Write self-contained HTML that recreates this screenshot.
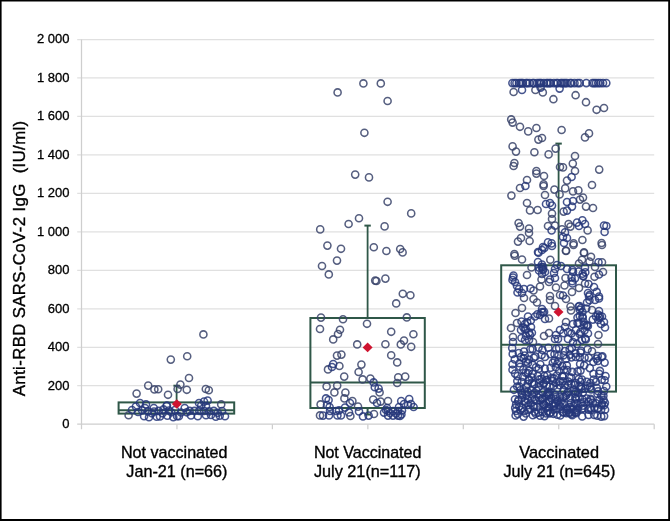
<!DOCTYPE html><html><head><meta charset="utf-8"><title>chart</title><style>html,body{margin:0;padding:0;background:#fff}svg{will-change:transform}</style></head><body><svg width="670" height="521" viewBox="0 0 670 521" style="display:block;font-family:'Liberation Sans',sans-serif">
<rect x="0" y="0" width="670" height="521" fill="#fff"/>
<line x1="77.2" y1="424.20" x2="654.2" y2="424.20" stroke="#cecece" stroke-width="1.25"/>
<text x="69.5" y="428.10" font-size="13" text-anchor="end" fill="#000" stroke="#000" stroke-width="0.3">0</text>
<line x1="77.2" y1="385.73" x2="654.2" y2="385.73" stroke="#e0e0e0" stroke-width="1.25"/>
<text x="69.5" y="389.63" font-size="13" text-anchor="end" fill="#000" stroke="#000" stroke-width="0.3">200</text>
<line x1="77.2" y1="347.26" x2="654.2" y2="347.26" stroke="#e0e0e0" stroke-width="1.25"/>
<text x="69.5" y="351.16" font-size="13" text-anchor="end" fill="#000" stroke="#000" stroke-width="0.3">400</text>
<line x1="77.2" y1="308.79" x2="654.2" y2="308.79" stroke="#e0e0e0" stroke-width="1.25"/>
<text x="69.5" y="312.69" font-size="13" text-anchor="end" fill="#000" stroke="#000" stroke-width="0.3">600</text>
<line x1="77.2" y1="270.32" x2="654.2" y2="270.32" stroke="#e0e0e0" stroke-width="1.25"/>
<text x="69.5" y="274.22" font-size="13" text-anchor="end" fill="#000" stroke="#000" stroke-width="0.3">800</text>
<line x1="77.2" y1="231.85" x2="654.2" y2="231.85" stroke="#e0e0e0" stroke-width="1.25"/>
<text x="69.5" y="235.75" font-size="13" text-anchor="end" fill="#000" stroke="#000" stroke-width="0.3">1 000</text>
<line x1="77.2" y1="193.38" x2="654.2" y2="193.38" stroke="#e0e0e0" stroke-width="1.25"/>
<text x="69.5" y="197.28" font-size="13" text-anchor="end" fill="#000" stroke="#000" stroke-width="0.3">1 200</text>
<line x1="77.2" y1="154.91" x2="654.2" y2="154.91" stroke="#e0e0e0" stroke-width="1.25"/>
<text x="69.5" y="158.81" font-size="13" text-anchor="end" fill="#000" stroke="#000" stroke-width="0.3">1 400</text>
<line x1="77.2" y1="116.44" x2="654.2" y2="116.44" stroke="#e0e0e0" stroke-width="1.25"/>
<text x="69.5" y="120.34" font-size="13" text-anchor="end" fill="#000" stroke="#000" stroke-width="0.3">1 600</text>
<line x1="77.2" y1="77.97" x2="654.2" y2="77.97" stroke="#e0e0e0" stroke-width="1.25"/>
<text x="69.5" y="81.87" font-size="13" text-anchor="end" fill="#000" stroke="#000" stroke-width="0.3">1 800</text>
<line x1="77.2" y1="39.50" x2="654.2" y2="39.50" stroke="#e0e0e0" stroke-width="1.25"/>
<text x="69.5" y="43.40" font-size="13" text-anchor="end" fill="#000" stroke="#000" stroke-width="0.3">2 000</text>
<line x1="81.5" y1="39.5" x2="81.5" y2="429.2" stroke="#cecece" stroke-width="1.25"/>
<line x1="176.95" y1="424.2" x2="176.95" y2="429.2" stroke="#cecece" stroke-width="1.25"/>
<line x1="272.40" y1="424.2" x2="272.40" y2="429.2" stroke="#cecece" stroke-width="1.25"/>
<line x1="367.85" y1="424.2" x2="367.85" y2="429.2" stroke="#cecece" stroke-width="1.25"/>
<line x1="463.30" y1="424.2" x2="463.30" y2="429.2" stroke="#cecece" stroke-width="1.25"/>
<line x1="558.75" y1="424.2" x2="558.75" y2="429.2" stroke="#cecece" stroke-width="1.25"/>
<line x1="654.20" y1="424.2" x2="654.20" y2="429.2" stroke="#cecece" stroke-width="1.25"/>
<g fill="none" stroke="#2f5748" stroke-width="2"><rect x="118.6" y="402.4" width="115.6" height="11.200000000000045"/><line x1="118.6" y1="410.3" x2="234.2" y2="410.3"/><line x1="176.6" y1="402.4" x2="176.6" y2="385.7" stroke-width="1.8"/><line x1="173.4" y1="385.7" x2="179.79999999999998" y2="385.7"/></g>
<g fill="none" stroke="#38436a" stroke-opacity="0.85" stroke-width="1.55"><circle cx="203.4" cy="334.4" r="3.55"/><circle cx="187.2" cy="356.2" r="3.55"/><circle cx="170.8" cy="359.6" r="3.55"/><circle cx="189.0" cy="378.0" r="3.55"/><circle cx="180.4" cy="384.6" r="3.55"/><circle cx="148.2" cy="385.6" r="3.55"/><circle cx="154.4" cy="389.4" r="3.55"/><circle cx="158.2" cy="389.2" r="3.55"/><circle cx="177.6" cy="389.0" r="3.55"/><circle cx="186.8" cy="389.8" r="3.55"/><circle cx="205.8" cy="389.0" r="3.55"/><circle cx="208.8" cy="390.2" r="3.55"/><circle cx="136.6" cy="393.6" r="3.55"/><circle cx="168.0" cy="394.8" r="3.55"/><circle cx="221.2" cy="404.4" r="3.55"/><circle cx="128.6" cy="415.2" r="3.55"/></g><g fill="none" stroke="#26377a" stroke-opacity="0.85" stroke-width="1.55"><circle cx="140.0" cy="403.0" r="3.55"/><circle cx="207.6" cy="400.6" r="3.55"/><circle cx="204.0" cy="401.6" r="3.55"/><circle cx="199.0" cy="403.0" r="3.55"/><circle cx="146.0" cy="404.4" r="3.55"/><circle cx="167.0" cy="405.6" r="3.55"/><circle cx="135.9" cy="406.5" r="3.55"/><circle cx="153.8" cy="408.0" r="3.55"/><circle cx="166.5" cy="406.0" r="3.55"/><circle cx="144.1" cy="416.2" r="3.55"/><circle cx="149.0" cy="417.2" r="3.55"/><circle cx="156.7" cy="416.7" r="3.55"/><circle cx="162.6" cy="413.3" r="3.55"/><circle cx="167.4" cy="415.7" r="3.55"/><circle cx="173.3" cy="417.2" r="3.55"/><circle cx="142.2" cy="410.4" r="3.55"/><circle cx="148.0" cy="411.4" r="3.55"/><circle cx="151.9" cy="413.3" r="3.55"/><circle cx="158.7" cy="410.9" r="3.55"/><circle cx="163.5" cy="409.4" r="3.55"/><circle cx="171.3" cy="412.3" r="3.55"/><circle cx="177.1" cy="416.2" r="3.55"/><circle cx="201.2" cy="405.5" r="3.55"/><circle cx="206.0" cy="406.0" r="3.55"/><circle cx="184.7" cy="408.0" r="3.55"/><circle cx="213.8" cy="410.9" r="3.55"/><circle cx="189.6" cy="410.9" r="3.55"/><circle cx="194.4" cy="410.9" r="3.55"/><circle cx="199.3" cy="410.9" r="3.55"/><circle cx="204.1" cy="410.9" r="3.55"/><circle cx="209.0" cy="411.4" r="3.55"/><circle cx="217.7" cy="412.8" r="3.55"/><circle cx="178.9" cy="416.2" r="3.55"/><circle cx="197.8" cy="416.2" r="3.55"/><circle cx="206.0" cy="415.2" r="3.55"/><circle cx="215.8" cy="416.7" r="3.55"/><circle cx="219.7" cy="415.7" r="3.55"/><circle cx="225.0" cy="416.2" r="3.55"/><circle cx="186.7" cy="412.3" r="3.55"/><circle cx="138.0" cy="412.0" r="3.55"/><circle cx="132.0" cy="410.0" r="3.55"/><circle cx="181.0" cy="412.5" r="3.55"/><circle cx="175.0" cy="410.0" r="3.55"/><circle cx="191.0" cy="415.5" r="3.55"/><circle cx="211.0" cy="415.0" r="3.55"/><circle cx="222.0" cy="411.0" r="3.55"/><circle cx="160.0" cy="416.5" r="3.55"/><circle cx="154.0" cy="411.5" r="3.55"/><circle cx="169.0" cy="410.5" r="3.55"/><circle cx="145.0" cy="408.0" r="3.55"/></g>
<path d="M171.8 404L176.8 399.2L181.8 404L176.8 408.8Z" fill="#cf1430"/>
<g fill="none" stroke="#2f5748" stroke-width="2"><rect x="310.4" y="318" width="114.40000000000003" height="90"/><line x1="310.4" y1="382.6" x2="424.8" y2="382.6"/><line x1="367.6" y1="318" x2="367.6" y2="225.6" stroke-width="1.8"/><line x1="364.40000000000003" y1="225.6" x2="370.8" y2="225.6"/><line x1="367.6" y1="408" x2="367.6" y2="414.5"/><line x1="364.40000000000003" y1="414.5" x2="370.8" y2="414.5"/></g>
<g fill="none" stroke="#38436a" stroke-opacity="0.85" stroke-width="1.55"><circle cx="363.4" cy="83.4" r="3.55"/><circle cx="380.8" cy="83.4" r="3.55"/><circle cx="337.6" cy="92.4" r="3.55"/><circle cx="387.6" cy="101.0" r="3.55"/><circle cx="364.4" cy="132.8" r="3.55"/><circle cx="355.2" cy="174.6" r="3.55"/><circle cx="369.0" cy="177.4" r="3.55"/><circle cx="387.6" cy="201.8" r="3.55"/><circle cx="411.2" cy="213.4" r="3.55"/><circle cx="359.0" cy="218.2" r="3.55"/><circle cx="348.6" cy="224.0" r="3.55"/><circle cx="384.6" cy="226.4" r="3.55"/><circle cx="320.2" cy="229.4" r="3.55"/><circle cx="327.4" cy="245.6" r="3.55"/><circle cx="341.0" cy="248.8" r="3.55"/><circle cx="373.8" cy="247.2" r="3.55"/><circle cx="386.4" cy="251.0" r="3.55"/><circle cx="400.2" cy="249.0" r="3.55"/><circle cx="402.6" cy="252.4" r="3.55"/><circle cx="337.0" cy="260.6" r="3.55"/><circle cx="322.0" cy="266.0" r="3.55"/><circle cx="328.8" cy="274.4" r="3.55"/><circle cx="375.2" cy="280.6" r="3.55"/><circle cx="376.4" cy="281.0" r="3.55"/><circle cx="385.4" cy="278.6" r="3.55"/><circle cx="402.8" cy="293.8" r="3.55"/><circle cx="410.4" cy="295.2" r="3.55"/><circle cx="396.2" cy="303.4" r="3.55"/><circle cx="321.0" cy="317.6" r="3.55"/><circle cx="343.0" cy="319.2" r="3.55"/><circle cx="406.8" cy="317.4" r="3.55"/><circle cx="367.0" cy="323.8" r="3.55"/><circle cx="320.0" cy="329.0" r="3.55"/><circle cx="340.0" cy="329.8" r="3.55"/><circle cx="338.0" cy="334.0" r="3.55"/><circle cx="391.2" cy="331.8" r="3.55"/><circle cx="413.4" cy="334.2" r="3.55"/><circle cx="333.2" cy="339.4" r="3.55"/><circle cx="404.0" cy="340.6" r="3.55"/><circle cx="357.2" cy="344.4" r="3.55"/><circle cx="385.4" cy="344.2" r="3.55"/><circle cx="400.8" cy="344.4" r="3.55"/><circle cx="411.2" cy="346.8" r="3.55"/><circle cx="337.0" cy="355.6" r="3.55"/><circle cx="341.4" cy="354.6" r="3.55"/><circle cx="391.2" cy="355.2" r="3.55"/><circle cx="397.2" cy="362.4" r="3.55"/><circle cx="339.4" cy="366.0" r="3.55"/><circle cx="361.4" cy="364.6" r="3.55"/><circle cx="328.0" cy="369.4" r="3.55"/><circle cx="358.6" cy="372.0" r="3.55"/><circle cx="344.2" cy="376.6" r="3.55"/><circle cx="362.6" cy="379.4" r="3.55"/><circle cx="370.4" cy="378.6" r="3.55"/><circle cx="398.2" cy="377.2" r="3.55"/><circle cx="405.2" cy="376.6" r="3.55"/><circle cx="397.2" cy="383.0" r="3.55"/><circle cx="326.6" cy="386.4" r="3.55"/><circle cx="337.2" cy="385.6" r="3.55"/><circle cx="334.4" cy="392.4" r="3.55"/><circle cx="345.4" cy="392.6" r="3.55"/><circle cx="379.6" cy="392.4" r="3.55"/><circle cx="344.4" cy="398.4" r="3.55"/><circle cx="373.2" cy="399.6" r="3.55"/><circle cx="352.4" cy="401.0" r="3.55"/><circle cx="380.6" cy="401.6" r="3.55"/><circle cx="388.0" cy="401.0" r="3.55"/><circle cx="320.6" cy="404.4" r="3.55"/><circle cx="358.0" cy="406.6" r="3.55"/><circle cx="320.0" cy="415.4" r="3.55"/><circle cx="350.4" cy="416.0" r="3.55"/><circle cx="374.0" cy="414.0" r="3.55"/></g><g fill="none" stroke="#26377a" stroke-opacity="0.85" stroke-width="1.55"><circle cx="333.2" cy="364.0" r="3.55"/><circle cx="332.0" cy="367.0" r="3.55"/><circle cx="373.6" cy="382.4" r="3.55"/><circle cx="374.8" cy="387.2" r="3.55"/><circle cx="378.6" cy="388.6" r="3.55"/><circle cx="326.0" cy="398.4" r="3.55"/><circle cx="328.6" cy="400.0" r="3.55"/><circle cx="350.0" cy="403.0" r="3.55"/><circle cx="377.0" cy="403.0" r="3.55"/><circle cx="401.2" cy="401.0" r="3.55"/><circle cx="409.2" cy="399.0" r="3.55"/><circle cx="327.0" cy="405.0" r="3.55"/><circle cx="329.6" cy="407.0" r="3.55"/><circle cx="345.0" cy="407.6" r="3.55"/><circle cx="404.0" cy="404.0" r="3.55"/><circle cx="408.0" cy="405.0" r="3.55"/><circle cx="411.0" cy="404.0" r="3.55"/><circle cx="413.6" cy="407.0" r="3.55"/><circle cx="399.0" cy="407.0" r="3.55"/><circle cx="387.0" cy="408.0" r="3.55"/><circle cx="330.0" cy="411.0" r="3.55"/><circle cx="336.0" cy="411.0" r="3.55"/><circle cx="339.0" cy="410.4" r="3.55"/><circle cx="349.0" cy="412.4" r="3.55"/><circle cx="359.0" cy="411.4" r="3.55"/><circle cx="388.0" cy="411.0" r="3.55"/><circle cx="393.0" cy="411.0" r="3.55"/><circle cx="398.0" cy="411.0" r="3.55"/><circle cx="402.0" cy="410.4" r="3.55"/><circle cx="323.0" cy="415.6" r="3.55"/><circle cx="329.0" cy="415.4" r="3.55"/><circle cx="337.4" cy="415.4" r="3.55"/><circle cx="341.0" cy="415.4" r="3.55"/><circle cx="363.0" cy="416.4" r="3.55"/><circle cx="368.6" cy="415.6" r="3.55"/><circle cx="384.0" cy="412.6" r="3.55"/><circle cx="388.0" cy="415.6" r="3.55"/><circle cx="393.0" cy="415.6" r="3.55"/><circle cx="398.0" cy="415.6" r="3.55"/><circle cx="401.4" cy="414.4" r="3.55"/><circle cx="400.0" cy="416.0" r="3.55"/><circle cx="390.0" cy="413.0" r="3.55"/><circle cx="396.0" cy="413.5" r="3.55"/><circle cx="386.0" cy="410.0" r="3.55"/></g>
<path d="M362.6 347.4L367.6 342.59999999999997L372.6 347.4L367.6 352.2Z" fill="#cf1430"/>
<g fill="none" stroke="#2f5748" stroke-width="2"><rect x="501.2" y="265.3" width="114.80000000000001" height="126.30000000000001"/><line x1="501.2" y1="344.8" x2="616" y2="344.8"/><line x1="558.6" y1="265.3" x2="558.6" y2="143.6" stroke-width="1.8"/><line x1="555.4" y1="143.6" x2="561.8000000000001" y2="143.6"/></g>
<g fill="none" stroke="#38436a" stroke-opacity="0.85" stroke-width="1.55"><circle cx="513.6" cy="92.0" r="3.55"/><circle cx="535.4" cy="90.0" r="3.55"/><circle cx="542.8" cy="92.4" r="3.55"/><circle cx="553.4" cy="99.2" r="3.55"/><circle cx="575.6" cy="95.2" r="3.55"/><circle cx="586.0" cy="102.2" r="3.55"/><circle cx="596.6" cy="109.8" r="3.55"/><circle cx="604.0" cy="108.0" r="3.55"/><circle cx="511.2" cy="119.4" r="3.55"/><circle cx="512.6" cy="122.6" r="3.55"/><circle cx="520.0" cy="126.8" r="3.55"/><circle cx="528.2" cy="131.4" r="3.55"/><circle cx="536.4" cy="128.0" r="3.55"/><circle cx="561.6" cy="130.0" r="3.55"/><circle cx="589.0" cy="133.4" r="3.55"/><circle cx="585.0" cy="137.4" r="3.55"/><circle cx="538.4" cy="139.6" r="3.55"/><circle cx="542.0" cy="138.0" r="3.55"/><circle cx="512.6" cy="146.4" r="3.55"/><circle cx="516.0" cy="151.6" r="3.55"/><circle cx="534.4" cy="152.2" r="3.55"/><circle cx="548.6" cy="154.4" r="3.55"/><circle cx="555.6" cy="148.6" r="3.55"/><circle cx="575.0" cy="156.0" r="3.55"/><circle cx="514.4" cy="163.0" r="3.55"/><circle cx="513.6" cy="166.0" r="3.55"/><circle cx="572.8" cy="163.6" r="3.55"/><circle cx="560.0" cy="167.0" r="3.55"/><circle cx="563.0" cy="167.4" r="3.55"/><circle cx="599.2" cy="169.6" r="3.55"/><circle cx="536.4" cy="171.0" r="3.55"/><circle cx="536.4" cy="173.6" r="3.55"/><circle cx="575.0" cy="171.0" r="3.55"/><circle cx="544.0" cy="176.0" r="3.55"/><circle cx="527.0" cy="180.0" r="3.55"/><circle cx="567.0" cy="180.6" r="3.55"/><circle cx="520.0" cy="188.0" r="3.55"/><circle cx="543.6" cy="184.4" r="3.55"/><circle cx="543.6" cy="186.0" r="3.55"/><circle cx="592.0" cy="185.0" r="3.55"/><circle cx="554.4" cy="189.6" r="3.55"/><circle cx="565.2" cy="188.4" r="3.55"/><circle cx="573.0" cy="191.4" r="3.55"/><circle cx="578.4" cy="190.4" r="3.55"/><circle cx="511.4" cy="195.6" r="3.55"/><circle cx="545.0" cy="195.0" r="3.55"/><circle cx="559.6" cy="194.4" r="3.55"/><circle cx="583.0" cy="197.6" r="3.55"/><circle cx="580.0" cy="199.6" r="3.55"/><circle cx="527.0" cy="203.0" r="3.55"/><circle cx="586.0" cy="206.6" r="3.55"/><circle cx="593.0" cy="208.0" r="3.55"/><circle cx="530.0" cy="210.4" r="3.55"/><circle cx="537.6" cy="210.0" r="3.55"/><circle cx="563.6" cy="211.6" r="3.55"/><circle cx="552.0" cy="213.6" r="3.55"/><circle cx="552.0" cy="219.0" r="3.55"/><circle cx="518.6" cy="223.0" r="3.55"/><circle cx="520.0" cy="226.6" r="3.55"/><circle cx="548.0" cy="226.0" r="3.55"/><circle cx="555.0" cy="225.6" r="3.55"/><circle cx="568.6" cy="224.0" r="3.55"/><circle cx="570.4" cy="226.6" r="3.55"/><circle cx="529.0" cy="228.6" r="3.55"/><circle cx="529.0" cy="233.0" r="3.55"/><circle cx="562.0" cy="229.4" r="3.55"/><circle cx="587.6" cy="230.4" r="3.55"/><circle cx="521.0" cy="238.0" r="3.55"/><circle cx="518.0" cy="241.6" r="3.55"/><circle cx="529.6" cy="241.0" r="3.55"/><circle cx="582.4" cy="240.0" r="3.55"/><circle cx="573.6" cy="243.4" r="3.55"/><circle cx="601.6" cy="243.0" r="3.55"/><circle cx="566.0" cy="250.6" r="3.55"/><circle cx="584.0" cy="252.4" r="3.55"/><circle cx="514.4" cy="254.0" r="3.55"/><circle cx="514.7" cy="255.7" r="3.55"/><circle cx="522.0" cy="259.5" r="3.55"/><circle cx="550.3" cy="259.8" r="3.55"/><circle cx="531.5" cy="267.5" r="3.55"/><circle cx="527.0" cy="275.0" r="3.55"/><circle cx="541.5" cy="279.5" r="3.55"/><circle cx="549.0" cy="282.0" r="3.55"/><circle cx="533.5" cy="290.5" r="3.55"/><circle cx="540.0" cy="286.5" r="3.55"/><circle cx="556.0" cy="287.5" r="3.55"/><circle cx="550.0" cy="296.0" r="3.55"/><circle cx="560.0" cy="295.0" r="3.55"/><circle cx="566.0" cy="251.0" r="3.55"/><circle cx="573.5" cy="245.0" r="3.55"/><circle cx="602.0" cy="245.0" r="3.55"/><circle cx="584.0" cy="253.0" r="3.55"/><circle cx="591.0" cy="256.8" r="3.55"/><circle cx="582.0" cy="259.8" r="3.55"/><circle cx="589.5" cy="261.5" r="3.55"/><circle cx="602.0" cy="262.2" r="3.55"/><circle cx="579.0" cy="263.5" r="3.55"/><circle cx="595.0" cy="267.0" r="3.55"/><circle cx="603.0" cy="272.0" r="3.55"/><circle cx="594.5" cy="276.8" r="3.55"/><circle cx="565.5" cy="278.0" r="3.55"/><circle cx="564.5" cy="285.5" r="3.55"/><circle cx="579.0" cy="288.0" r="3.55"/><circle cx="572.0" cy="292.0" r="3.55"/><circle cx="524.0" cy="298.0" r="3.55"/><circle cx="533.5" cy="299.0" r="3.55"/><circle cx="537.0" cy="302.5" r="3.55"/><circle cx="550.0" cy="300.0" r="3.55"/><circle cx="522.0" cy="308.0" r="3.55"/><circle cx="515.5" cy="313.0" r="3.55"/><circle cx="555.0" cy="306.0" r="3.55"/><circle cx="549.0" cy="318.5" r="3.55"/><circle cx="517.0" cy="323.0" r="3.55"/><circle cx="511.0" cy="328.0" r="3.55"/><circle cx="513.0" cy="337.0" r="3.55"/><circle cx="533.0" cy="342.0" r="3.55"/><circle cx="544.0" cy="336.0" r="3.55"/><circle cx="549.0" cy="333.0" r="3.55"/><circle cx="566.0" cy="299.0" r="3.55"/><circle cx="570.5" cy="306.5" r="3.55"/><circle cx="571.0" cy="310.5" r="3.55"/><circle cx="592.0" cy="310.0" r="3.55"/><circle cx="566.0" cy="322.0" r="3.55"/><circle cx="598.5" cy="335.0" r="3.55"/><circle cx="598.0" cy="344.0" r="3.55"/><circle cx="592.0" cy="351.3" r="3.55"/><circle cx="585.0" cy="283.5" r="3.55"/></g><g fill="none" stroke="#26377a" stroke-opacity="0.85" stroke-width="1.55"><circle cx="522.0" cy="90.0" r="3.55"/><circle cx="540.6" cy="87.6" r="3.55"/><circle cx="559.6" cy="88.6" r="3.55"/><circle cx="571.6" cy="177.0" r="3.55"/><circle cx="525.4" cy="186.0" r="3.55"/><circle cx="546.0" cy="204.0" r="3.55"/><circle cx="550.0" cy="203.0" r="3.55"/><circle cx="552.0" cy="205.6" r="3.55"/><circle cx="567.0" cy="202.0" r="3.55"/><circle cx="573.0" cy="201.0" r="3.55"/><circle cx="572.0" cy="206.6" r="3.55"/><circle cx="567.0" cy="210.6" r="3.55"/><circle cx="577.0" cy="222.6" r="3.55"/><circle cx="579.0" cy="226.0" r="3.55"/><circle cx="582.4" cy="220.4" r="3.55"/><circle cx="585.0" cy="224.0" r="3.55"/><circle cx="604.0" cy="225.6" r="3.55"/><circle cx="606.4" cy="226.0" r="3.55"/><circle cx="551.6" cy="230.4" r="3.55"/><circle cx="565.0" cy="232.4" r="3.55"/><circle cx="604.6" cy="232.0" r="3.55"/><circle cx="563.0" cy="237.0" r="3.55"/><circle cx="567.0" cy="238.0" r="3.55"/><circle cx="548.0" cy="242.4" r="3.55"/><circle cx="551.6" cy="243.4" r="3.55"/><circle cx="564.0" cy="243.0" r="3.55"/><circle cx="544.4" cy="248.0" r="3.55"/><circle cx="542.0" cy="250.0" r="3.55"/><circle cx="538.0" cy="252.0" r="3.55"/><circle cx="538.5" cy="252.8" r="3.55"/><circle cx="543.0" cy="247.0" r="3.55"/><circle cx="552.0" cy="246.0" r="3.55"/><circle cx="538.0" cy="262.0" r="3.55"/><circle cx="542.0" cy="264.5" r="3.55"/><circle cx="539.0" cy="270.5" r="3.55"/><circle cx="543.0" cy="270.0" r="3.55"/><circle cx="545.0" cy="272.0" r="3.55"/><circle cx="542.0" cy="274.0" r="3.55"/><circle cx="555.0" cy="269.0" r="3.55"/><circle cx="557.0" cy="265.0" r="3.55"/><circle cx="554.0" cy="273.0" r="3.55"/><circle cx="513.5" cy="275.5" r="3.55"/><circle cx="513.0" cy="277.5" r="3.55"/><circle cx="512.5" cy="280.0" r="3.55"/><circle cx="515.0" cy="282.0" r="3.55"/><circle cx="550.0" cy="279.5" r="3.55"/><circle cx="555.0" cy="278.0" r="3.55"/><circle cx="517.0" cy="286.0" r="3.55"/><circle cx="519.0" cy="289.0" r="3.55"/><circle cx="524.0" cy="289.0" r="3.55"/><circle cx="530.5" cy="288.5" r="3.55"/><circle cx="517.5" cy="292.5" r="3.55"/><circle cx="522.0" cy="293.0" r="3.55"/><circle cx="598.5" cy="262.2" r="3.55"/><circle cx="561.0" cy="266.0" r="3.55"/><circle cx="585.0" cy="267.5" r="3.55"/><circle cx="572.5" cy="270.0" r="3.55"/><circle cx="578.5" cy="271.5" r="3.55"/><circle cx="567.0" cy="269.0" r="3.55"/><circle cx="599.0" cy="274.5" r="3.55"/><circle cx="583.0" cy="276.0" r="3.55"/><circle cx="571.5" cy="277.5" r="3.55"/><circle cx="575.0" cy="278.5" r="3.55"/><circle cx="572.5" cy="283.5" r="3.55"/><circle cx="588.5" cy="284.0" r="3.55"/><circle cx="594.0" cy="287.0" r="3.55"/><circle cx="588.0" cy="293.0" r="3.55"/><circle cx="589.5" cy="295.0" r="3.55"/><circle cx="563.0" cy="295.5" r="3.55"/><circle cx="599.0" cy="296.5" r="3.55"/><circle cx="542.0" cy="309.0" r="3.55"/><circle cx="543.0" cy="312.5" r="3.55"/><circle cx="528.0" cy="316.5" r="3.55"/><circle cx="535.0" cy="316.5" r="3.55"/><circle cx="540.0" cy="315.0" r="3.55"/><circle cx="545.0" cy="319.0" r="3.55"/><circle cx="521.5" cy="321.5" r="3.55"/><circle cx="525.0" cy="324.0" r="3.55"/><circle cx="521.0" cy="330.0" r="3.55"/><circle cx="526.0" cy="329.0" r="3.55"/><circle cx="531.0" cy="327.0" r="3.55"/><circle cx="529.0" cy="332.5" r="3.55"/><circle cx="521.5" cy="338.0" r="3.55"/><circle cx="526.0" cy="336.0" r="3.55"/><circle cx="530.0" cy="335.0" r="3.55"/><circle cx="525.0" cy="340.0" r="3.55"/><circle cx="529.0" cy="340.0" r="3.55"/><circle cx="513.0" cy="342.0" r="3.55"/><circle cx="556.0" cy="335.0" r="3.55"/><circle cx="555.0" cy="339.0" r="3.55"/><circle cx="560.0" cy="330.0" r="3.55"/><circle cx="587.0" cy="302.5" r="3.55"/><circle cx="595.0" cy="300.0" r="3.55"/><circle cx="599.0" cy="298.5" r="3.55"/><circle cx="589.0" cy="296.5" r="3.55"/><circle cx="581.0" cy="308.0" r="3.55"/><circle cx="582.5" cy="312.0" r="3.55"/><circle cx="599.0" cy="311.0" r="3.55"/><circle cx="598.0" cy="314.5" r="3.55"/><circle cx="602.0" cy="316.5" r="3.55"/><circle cx="596.0" cy="316.5" r="3.55"/><circle cx="577.5" cy="317.5" r="3.55"/><circle cx="582.5" cy="316.5" r="3.55"/><circle cx="573.0" cy="324.0" r="3.55"/><circle cx="577.5" cy="323.0" r="3.55"/><circle cx="584.0" cy="325.0" r="3.55"/><circle cx="587.0" cy="325.0" r="3.55"/><circle cx="601.0" cy="324.0" r="3.55"/><circle cx="604.0" cy="322.0" r="3.55"/><circle cx="605.0" cy="327.5" r="3.55"/><circle cx="565.0" cy="327.0" r="3.55"/><circle cx="568.0" cy="332.0" r="3.55"/><circle cx="571.5" cy="333.5" r="3.55"/><circle cx="576.0" cy="330.0" r="3.55"/><circle cx="580.5" cy="332.0" r="3.55"/><circle cx="588.0" cy="333.5" r="3.55"/><circle cx="584.5" cy="330.5" r="3.55"/><circle cx="558.0" cy="339.0" r="3.55"/><circle cx="568.0" cy="339.0" r="3.55"/><circle cx="575.0" cy="337.0" r="3.55"/><circle cx="582.0" cy="340.0" r="3.55"/><circle cx="577.0" cy="344.0" r="3.55"/><circle cx="573.0" cy="342.0" r="3.55"/><circle cx="512.4" cy="83.1" r="3.55"/><circle cx="514.6" cy="83.1" r="3.55"/><circle cx="516.4" cy="83.1" r="3.55"/><circle cx="519.0" cy="83.1" r="3.55"/><circle cx="520.5" cy="83.1" r="3.55"/><circle cx="521.7" cy="83.1" r="3.55"/><circle cx="522.9" cy="83.1" r="3.55"/><circle cx="526.1" cy="83.1" r="3.55"/><circle cx="527.3" cy="83.1" r="3.55"/><circle cx="529.5" cy="83.1" r="3.55"/><circle cx="532.7" cy="83.1" r="3.55"/><circle cx="533.9" cy="83.1" r="3.55"/><circle cx="537.1" cy="83.1" r="3.55"/><circle cx="538.9" cy="83.1" r="3.55"/><circle cx="540.1" cy="83.1" r="3.55"/><circle cx="541.3" cy="83.1" r="3.55"/><circle cx="543.9" cy="83.1" r="3.55"/><circle cx="546.5" cy="83.1" r="3.55"/><circle cx="547.7" cy="83.1" r="3.55"/><circle cx="549.5" cy="83.1" r="3.55"/><circle cx="550.7" cy="83.1" r="3.55"/><circle cx="553.9" cy="83.1" r="3.55"/><circle cx="556.5" cy="83.1" r="3.55"/><circle cx="557.7" cy="83.1" r="3.55"/><circle cx="560.9" cy="83.1" r="3.55"/><circle cx="562.1" cy="83.1" r="3.55"/><circle cx="563.9" cy="83.1" r="3.55"/><circle cx="565.4" cy="83.1" r="3.55"/><circle cx="566.9" cy="83.1" r="3.55"/><circle cx="570.1" cy="83.1" r="3.55"/><circle cx="571.3" cy="83.1" r="3.55"/><circle cx="574.5" cy="83.1" r="3.55"/><circle cx="577.7" cy="83.1" r="3.55"/><circle cx="579.7" cy="83.1" r="3.55"/><circle cx="586.3" cy="83.1" r="3.55"/><circle cx="592.5" cy="83.1" r="3.55"/><circle cx="594.2" cy="83.1" r="3.55"/><circle cx="596.0" cy="83.1" r="3.55"/><circle cx="598.2" cy="83.1" r="3.55"/><circle cx="600.3" cy="83.1" r="3.55"/><circle cx="603.0" cy="83.1" r="3.55"/><circle cx="606.3" cy="83.1" r="3.55"/><circle cx="512.2" cy="348.1" r="3.55"/><circle cx="512.7" cy="353.9" r="3.55"/><circle cx="514.8" cy="359.4" r="3.55"/><circle cx="512.5" cy="364.3" r="3.55"/><circle cx="512.5" cy="369.8" r="3.55"/><circle cx="515.1" cy="373.6" r="3.55"/><circle cx="518.8" cy="353.0" r="3.55"/><circle cx="520.9" cy="357.1" r="3.55"/><circle cx="519.4" cy="363.2" r="3.55"/><circle cx="520.0" cy="366.7" r="3.55"/><circle cx="524.0" cy="351.6" r="3.55"/><circle cx="524.7" cy="355.6" r="3.55"/><circle cx="523.6" cy="358.4" r="3.55"/><circle cx="525.9" cy="361.8" r="3.55"/><circle cx="523.3" cy="369.7" r="3.55"/><circle cx="525.6" cy="372.7" r="3.55"/><circle cx="530.3" cy="349.2" r="3.55"/><circle cx="528.7" cy="359.6" r="3.55"/><circle cx="528.0" cy="362.9" r="3.55"/><circle cx="528.9" cy="370.8" r="3.55"/><circle cx="527.7" cy="373.1" r="3.55"/><circle cx="532.6" cy="349.1" r="3.55"/><circle cx="535.4" cy="356.6" r="3.55"/><circle cx="533.8" cy="357.8" r="3.55"/><circle cx="532.6" cy="364.7" r="3.55"/><circle cx="536.0" cy="367.2" r="3.55"/><circle cx="532.6" cy="373.8" r="3.55"/><circle cx="538.5" cy="347.6" r="3.55"/><circle cx="541.6" cy="355.0" r="3.55"/><circle cx="540.3" cy="364.2" r="3.55"/><circle cx="538.8" cy="368.7" r="3.55"/><circle cx="537.8" cy="375.9" r="3.55"/><circle cx="542.4" cy="349.9" r="3.55"/><circle cx="544.9" cy="357.0" r="3.55"/><circle cx="544.8" cy="368.6" r="3.55"/><circle cx="544.3" cy="375.9" r="3.55"/><circle cx="548.4" cy="347.7" r="3.55"/><circle cx="550.5" cy="354.1" r="3.55"/><circle cx="550.6" cy="367.8" r="3.55"/><circle cx="547.3" cy="375.3" r="3.55"/><circle cx="556.3" cy="348.7" r="3.55"/><circle cx="554.5" cy="354.3" r="3.55"/><circle cx="554.8" cy="360.5" r="3.55"/><circle cx="552.8" cy="362.7" r="3.55"/><circle cx="555.8" cy="367.3" r="3.55"/><circle cx="559.1" cy="347.9" r="3.55"/><circle cx="558.5" cy="355.7" r="3.55"/><circle cx="558.5" cy="361.4" r="3.55"/><circle cx="557.3" cy="363.8" r="3.55"/><circle cx="559.2" cy="371.1" r="3.55"/><circle cx="556.8" cy="375.6" r="3.55"/><circle cx="564.9" cy="351.0" r="3.55"/><circle cx="563.7" cy="355.3" r="3.55"/><circle cx="566.2" cy="358.8" r="3.55"/><circle cx="562.2" cy="366.1" r="3.55"/><circle cx="564.0" cy="369.9" r="3.55"/><circle cx="562.5" cy="376.0" r="3.55"/><circle cx="569.6" cy="349.2" r="3.55"/><circle cx="569.8" cy="354.7" r="3.55"/><circle cx="571.4" cy="357.4" r="3.55"/><circle cx="566.8" cy="365.4" r="3.55"/><circle cx="567.2" cy="370.0" r="3.55"/><circle cx="571.8" cy="348.0" r="3.55"/><circle cx="575.5" cy="353.4" r="3.55"/><circle cx="575.8" cy="357.0" r="3.55"/><circle cx="572.3" cy="371.9" r="3.55"/><circle cx="581.0" cy="350.8" r="3.55"/><circle cx="580.5" cy="352.6" r="3.55"/><circle cx="579.7" cy="357.2" r="3.55"/><circle cx="580.1" cy="364.1" r="3.55"/><circle cx="580.5" cy="370.6" r="3.55"/><circle cx="577.6" cy="371.4" r="3.55"/><circle cx="584.6" cy="357.6" r="3.55"/><circle cx="584.2" cy="365.4" r="3.55"/><circle cx="587.6" cy="349.2" r="3.55"/><circle cx="588.7" cy="357.7" r="3.55"/><circle cx="589.8" cy="368.1" r="3.55"/><circle cx="596.5" cy="358.6" r="3.55"/><circle cx="593.4" cy="361.9" r="3.55"/><circle cx="593.5" cy="373.7" r="3.55"/><circle cx="597.7" cy="356.1" r="3.55"/><circle cx="597.9" cy="361.0" r="3.55"/><circle cx="599.9" cy="370.9" r="3.55"/><circle cx="599.2" cy="373.7" r="3.55"/><circle cx="602.4" cy="356.2" r="3.55"/><circle cx="601.6" cy="357.1" r="3.55"/><circle cx="604.6" cy="362.6" r="3.55"/><circle cx="517.3" cy="381.0" r="3.55"/><circle cx="517.2" cy="386.5" r="3.55"/><circle cx="513.9" cy="389.8" r="3.55"/><circle cx="517.6" cy="376.1" r="3.55"/><circle cx="521.8" cy="382.1" r="3.55"/><circle cx="519.4" cy="386.6" r="3.55"/><circle cx="520.4" cy="390.2" r="3.55"/><circle cx="521.8" cy="393.2" r="3.55"/><circle cx="522.9" cy="376.8" r="3.55"/><circle cx="526.3" cy="387.3" r="3.55"/><circle cx="524.7" cy="391.5" r="3.55"/><circle cx="522.2" cy="394.7" r="3.55"/><circle cx="528.6" cy="379.9" r="3.55"/><circle cx="529.4" cy="380.2" r="3.55"/><circle cx="527.6" cy="384.0" r="3.55"/><circle cx="527.8" cy="391.9" r="3.55"/><circle cx="526.5" cy="395.5" r="3.55"/><circle cx="531.6" cy="377.3" r="3.55"/><circle cx="532.1" cy="382.6" r="3.55"/><circle cx="534.3" cy="384.4" r="3.55"/><circle cx="531.5" cy="390.3" r="3.55"/><circle cx="532.1" cy="394.5" r="3.55"/><circle cx="539.5" cy="379.4" r="3.55"/><circle cx="539.2" cy="383.1" r="3.55"/><circle cx="538.7" cy="386.9" r="3.55"/><circle cx="536.5" cy="390.5" r="3.55"/><circle cx="538.9" cy="394.9" r="3.55"/><circle cx="541.6" cy="378.8" r="3.55"/><circle cx="543.8" cy="383.0" r="3.55"/><circle cx="543.3" cy="384.1" r="3.55"/><circle cx="542.6" cy="392.3" r="3.55"/><circle cx="547.0" cy="379.8" r="3.55"/><circle cx="546.2" cy="380.2" r="3.55"/><circle cx="546.5" cy="385.0" r="3.55"/><circle cx="548.2" cy="392.4" r="3.55"/><circle cx="551.9" cy="377.9" r="3.55"/><circle cx="552.4" cy="380.9" r="3.55"/><circle cx="549.6" cy="386.6" r="3.55"/><circle cx="549.9" cy="392.2" r="3.55"/><circle cx="554.0" cy="378.4" r="3.55"/><circle cx="556.0" cy="382.8" r="3.55"/><circle cx="553.7" cy="385.9" r="3.55"/><circle cx="557.4" cy="388.4" r="3.55"/><circle cx="555.3" cy="394.8" r="3.55"/><circle cx="560.0" cy="381.2" r="3.55"/><circle cx="559.6" cy="385.2" r="3.55"/><circle cx="562.3" cy="376.4" r="3.55"/><circle cx="563.1" cy="381.4" r="3.55"/><circle cx="564.8" cy="385.1" r="3.55"/><circle cx="563.6" cy="390.0" r="3.55"/><circle cx="569.5" cy="377.6" r="3.55"/><circle cx="568.3" cy="381.5" r="3.55"/><circle cx="567.9" cy="385.3" r="3.55"/><circle cx="568.2" cy="391.8" r="3.55"/><circle cx="566.5" cy="395.0" r="3.55"/><circle cx="571.2" cy="377.6" r="3.55"/><circle cx="571.2" cy="383.7" r="3.55"/><circle cx="574.7" cy="385.1" r="3.55"/><circle cx="573.8" cy="390.5" r="3.55"/><circle cx="575.2" cy="393.7" r="3.55"/><circle cx="578.8" cy="379.1" r="3.55"/><circle cx="575.5" cy="383.0" r="3.55"/><circle cx="579.2" cy="386.2" r="3.55"/><circle cx="575.7" cy="391.7" r="3.55"/><circle cx="578.1" cy="392.6" r="3.55"/><circle cx="581.9" cy="379.6" r="3.55"/><circle cx="580.5" cy="381.7" r="3.55"/><circle cx="580.9" cy="387.0" r="3.55"/><circle cx="581.6" cy="389.0" r="3.55"/><circle cx="582.8" cy="392.5" r="3.55"/><circle cx="586.7" cy="381.8" r="3.55"/><circle cx="587.6" cy="385.7" r="3.55"/><circle cx="585.3" cy="388.7" r="3.55"/><circle cx="590.4" cy="383.0" r="3.55"/><circle cx="589.9" cy="387.0" r="3.55"/><circle cx="591.2" cy="389.4" r="3.55"/><circle cx="593.6" cy="379.6" r="3.55"/><circle cx="596.0" cy="381.7" r="3.55"/><circle cx="596.8" cy="387.9" r="3.55"/><circle cx="597.5" cy="394.0" r="3.55"/><circle cx="601.7" cy="379.7" r="3.55"/><circle cx="598.1" cy="391.3" r="3.55"/><circle cx="601.4" cy="395.6" r="3.55"/><circle cx="605.5" cy="376.0" r="3.55"/><circle cx="604.6" cy="380.2" r="3.55"/><circle cx="606.3" cy="386.5" r="3.55"/><circle cx="604.0" cy="391.1" r="3.55"/><circle cx="603.4" cy="395.8" r="3.55"/><circle cx="515.0" cy="399.3" r="3.55"/><circle cx="516.1" cy="404.4" r="3.55"/><circle cx="515.2" cy="407.9" r="3.55"/><circle cx="516.0" cy="410.9" r="3.55"/><circle cx="515.6" cy="415.5" r="3.55"/><circle cx="518.6" cy="399.7" r="3.55"/><circle cx="518.2" cy="401.2" r="3.55"/><circle cx="519.3" cy="406.5" r="3.55"/><circle cx="520.6" cy="410.1" r="3.55"/><circle cx="517.9" cy="414.0" r="3.55"/><circle cx="522.0" cy="398.1" r="3.55"/><circle cx="524.7" cy="401.0" r="3.55"/><circle cx="522.7" cy="408.1" r="3.55"/><circle cx="524.1" cy="411.2" r="3.55"/><circle cx="523.6" cy="416.6" r="3.55"/><circle cx="527.9" cy="399.9" r="3.55"/><circle cx="525.7" cy="402.7" r="3.55"/><circle cx="528.3" cy="405.2" r="3.55"/><circle cx="528.3" cy="409.9" r="3.55"/><circle cx="525.9" cy="413.5" r="3.55"/><circle cx="531.9" cy="398.2" r="3.55"/><circle cx="530.6" cy="403.2" r="3.55"/><circle cx="533.2" cy="406.3" r="3.55"/><circle cx="529.7" cy="408.9" r="3.55"/><circle cx="532.8" cy="415.2" r="3.55"/><circle cx="534.7" cy="399.2" r="3.55"/><circle cx="536.4" cy="400.6" r="3.55"/><circle cx="534.0" cy="406.7" r="3.55"/><circle cx="534.5" cy="411.7" r="3.55"/><circle cx="535.7" cy="413.8" r="3.55"/><circle cx="538.7" cy="397.6" r="3.55"/><circle cx="540.2" cy="400.5" r="3.55"/><circle cx="537.4" cy="406.9" r="3.55"/><circle cx="538.4" cy="412.6" r="3.55"/><circle cx="540.0" cy="415.7" r="3.55"/><circle cx="542.1" cy="399.0" r="3.55"/><circle cx="544.1" cy="404.2" r="3.55"/><circle cx="544.2" cy="404.9" r="3.55"/><circle cx="542.8" cy="411.9" r="3.55"/><circle cx="544.5" cy="416.2" r="3.55"/><circle cx="546.7" cy="396.0" r="3.55"/><circle cx="546.0" cy="403.1" r="3.55"/><circle cx="545.7" cy="408.0" r="3.55"/><circle cx="547.9" cy="411.1" r="3.55"/><circle cx="546.3" cy="413.5" r="3.55"/><circle cx="551.2" cy="398.0" r="3.55"/><circle cx="549.3" cy="402.0" r="3.55"/><circle cx="549.0" cy="407.0" r="3.55"/><circle cx="550.3" cy="412.8" r="3.55"/><circle cx="549.4" cy="413.4" r="3.55"/><circle cx="556.0" cy="397.0" r="3.55"/><circle cx="555.5" cy="403.4" r="3.55"/><circle cx="553.7" cy="405.6" r="3.55"/><circle cx="553.5" cy="409.7" r="3.55"/><circle cx="553.3" cy="413.8" r="3.55"/><circle cx="559.9" cy="396.8" r="3.55"/><circle cx="557.4" cy="401.2" r="3.55"/><circle cx="558.9" cy="404.8" r="3.55"/><circle cx="556.5" cy="408.6" r="3.55"/><circle cx="557.3" cy="414.7" r="3.55"/><circle cx="563.6" cy="397.0" r="3.55"/><circle cx="562.6" cy="403.7" r="3.55"/><circle cx="560.5" cy="406.6" r="3.55"/><circle cx="562.6" cy="411.9" r="3.55"/><circle cx="560.3" cy="415.5" r="3.55"/><circle cx="565.5" cy="396.2" r="3.55"/><circle cx="564.3" cy="404.4" r="3.55"/><circle cx="566.9" cy="408.2" r="3.55"/><circle cx="567.3" cy="410.3" r="3.55"/><circle cx="566.5" cy="413.1" r="3.55"/><circle cx="569.9" cy="398.0" r="3.55"/><circle cx="571.0" cy="403.0" r="3.55"/><circle cx="570.0" cy="407.1" r="3.55"/><circle cx="569.0" cy="412.8" r="3.55"/><circle cx="569.6" cy="413.0" r="3.55"/><circle cx="575.2" cy="397.7" r="3.55"/><circle cx="574.8" cy="403.6" r="3.55"/><circle cx="573.3" cy="406.1" r="3.55"/><circle cx="573.5" cy="409.3" r="3.55"/><circle cx="572.2" cy="415.2" r="3.55"/><circle cx="578.6" cy="396.5" r="3.55"/><circle cx="576.2" cy="403.6" r="3.55"/><circle cx="577.9" cy="408.3" r="3.55"/><circle cx="576.3" cy="410.1" r="3.55"/><circle cx="576.3" cy="413.1" r="3.55"/><circle cx="582.4" cy="399.3" r="3.55"/><circle cx="580.7" cy="403.7" r="3.55"/><circle cx="583.0" cy="405.7" r="3.55"/><circle cx="582.0" cy="409.0" r="3.55"/><circle cx="582.2" cy="416.5" r="3.55"/><circle cx="586.7" cy="398.6" r="3.55"/><circle cx="584.1" cy="402.2" r="3.55"/><circle cx="583.5" cy="408.3" r="3.55"/><circle cx="590.5" cy="398.8" r="3.55"/><circle cx="588.5" cy="401.8" r="3.55"/><circle cx="590.5" cy="407.7" r="3.55"/><circle cx="588.4" cy="409.6" r="3.55"/><circle cx="588.6" cy="414.9" r="3.55"/><circle cx="591.1" cy="400.1" r="3.55"/><circle cx="592.8" cy="402.8" r="3.55"/><circle cx="594.3" cy="407.8" r="3.55"/><circle cx="591.3" cy="410.1" r="3.55"/><circle cx="594.2" cy="414.9" r="3.55"/><circle cx="596.1" cy="403.2" r="3.55"/><circle cx="597.8" cy="408.2" r="3.55"/><circle cx="598.0" cy="408.7" r="3.55"/><circle cx="597.3" cy="415.7" r="3.55"/><circle cx="599.3" cy="399.7" r="3.55"/><circle cx="601.9" cy="403.5" r="3.55"/><circle cx="601.6" cy="405.3" r="3.55"/><circle cx="601.1" cy="409.7" r="3.55"/><circle cx="601.2" cy="416.6" r="3.55"/><circle cx="603.6" cy="400.1" r="3.55"/><circle cx="604.9" cy="402.8" r="3.55"/><circle cx="604.1" cy="405.2" r="3.55"/><circle cx="605.1" cy="409.8" r="3.55"/><circle cx="604.1" cy="416.1" r="3.55"/><circle cx="567.3" cy="393.1" r="3.55"/><circle cx="571.5" cy="414.2" r="3.55"/><circle cx="552.8" cy="404.0" r="3.55"/><circle cx="563.7" cy="412.6" r="3.55"/><circle cx="543.6" cy="404.3" r="3.55"/><circle cx="571.4" cy="409.0" r="3.55"/><circle cx="549.1" cy="400.6" r="3.55"/><circle cx="549.0" cy="395.4" r="3.55"/><circle cx="547.2" cy="393.9" r="3.55"/><circle cx="542.6" cy="406.2" r="3.55"/><circle cx="576.1" cy="398.8" r="3.55"/><circle cx="555.7" cy="399.1" r="3.55"/><circle cx="576.4" cy="412.0" r="3.55"/><circle cx="574.7" cy="412.6" r="3.55"/><circle cx="565.7" cy="409.2" r="3.55"/><circle cx="542.2" cy="398.7" r="3.55"/><circle cx="560.8" cy="401.6" r="3.55"/><circle cx="548.7" cy="393.1" r="3.55"/><circle cx="554.5" cy="406.1" r="3.55"/><circle cx="534.1" cy="393.3" r="3.55"/><circle cx="543.1" cy="267.0" r="3.55"/><circle cx="542.7" cy="269.3" r="3.55"/><circle cx="541.7" cy="267.0" r="3.55"/><circle cx="539.2" cy="267.7" r="3.55"/><circle cx="585.3" cy="272.2" r="3.55"/><circle cx="572.2" cy="281.2" r="3.55"/><circle cx="583.3" cy="276.3" r="3.55"/><circle cx="573.0" cy="272.0" r="3.55"/><circle cx="582.6" cy="273.8" r="3.55"/><circle cx="537.4" cy="314.2" r="3.55"/><circle cx="544.1" cy="311.9" r="3.55"/><circle cx="541.6" cy="312.0" r="3.55"/><circle cx="582.7" cy="317.8" r="3.55"/><circle cx="579.5" cy="306.0" r="3.55"/><circle cx="578.6" cy="306.6" r="3.55"/><circle cx="579.7" cy="309.8" r="3.55"/><circle cx="586.2" cy="308.5" r="3.55"/><circle cx="583.5" cy="321.8" r="3.55"/><circle cx="579.8" cy="315.9" r="3.55"/><circle cx="598.2" cy="319.9" r="3.55"/><circle cx="599.8" cy="316.1" r="3.55"/><circle cx="599.4" cy="317.6" r="3.55"/><circle cx="592.8" cy="319.6" r="3.55"/><circle cx="531.9" cy="332.8" r="3.55"/><circle cx="524.7" cy="329.2" r="3.55"/><circle cx="523.3" cy="327.3" r="3.55"/><circle cx="530.8" cy="320.5" r="3.55"/><circle cx="527.2" cy="322.3" r="3.55"/><circle cx="587.9" cy="326.0" r="3.55"/><circle cx="578.7" cy="323.3" r="3.55"/><circle cx="585.2" cy="338.6" r="3.55"/><circle cx="586.5" cy="326.0" r="3.55"/><circle cx="563.4" cy="333.1" r="3.55"/><circle cx="579.7" cy="334.0" r="3.55"/><circle cx="585.8" cy="339.5" r="3.55"/><circle cx="589.5" cy="300.3" r="3.55"/><circle cx="596.7" cy="291.9" r="3.55"/></g>
<path d="M553.5 312L558.5 307.2L563.5 312L558.5 316.8Z" fill="#cf1430"/>
<text x="120.9" y="458.4" font-size="16.2" text-anchor="start" fill="#000" stroke="#000" stroke-width="0.35" textLength="106.6" lengthAdjust="spacingAndGlyphs">Not vaccinated</text>
<text x="126.3" y="477.2" font-size="16.2" text-anchor="start" fill="#000" stroke="#000" stroke-width="0.35" textLength="101.2" lengthAdjust="spacingAndGlyphs">Jan-21 (n=66)</text>
<text x="313.9" y="458.4" font-size="16.2" text-anchor="start" fill="#000" stroke="#000" stroke-width="0.35" textLength="107.4" lengthAdjust="spacingAndGlyphs">Not Vaccinated</text>
<text x="313.9" y="477.2" font-size="16.2" text-anchor="start" fill="#000" stroke="#000" stroke-width="0.35" textLength="106.8" lengthAdjust="spacingAndGlyphs">July 21(n=117)</text>
<text x="519.3" y="458.4" font-size="16.2" text-anchor="start" fill="#000" stroke="#000" stroke-width="0.35" textLength="79.7" lengthAdjust="spacingAndGlyphs">Vaccinated</text>
<text x="503.4" y="477.2" font-size="16.2" text-anchor="start" fill="#000" stroke="#000" stroke-width="0.35" textLength="112" lengthAdjust="spacingAndGlyphs">July 21 (n=645)</text>
<text transform="translate(25.4,396.2) rotate(-90)" font-size="16.8" fill="#000" stroke="#000" stroke-width="0.35" textLength="275.4" lengthAdjust="spacing" xml:space="preserve">Anti-RBD SARS-CoV-2 IgG  (IU/ml)</text>
<path d="M0 0H670V521H0Z M1.6 1.5V518.9H668.2V1.5Z" fill="#000" fill-rule="evenodd"/>
</svg></body></html>
